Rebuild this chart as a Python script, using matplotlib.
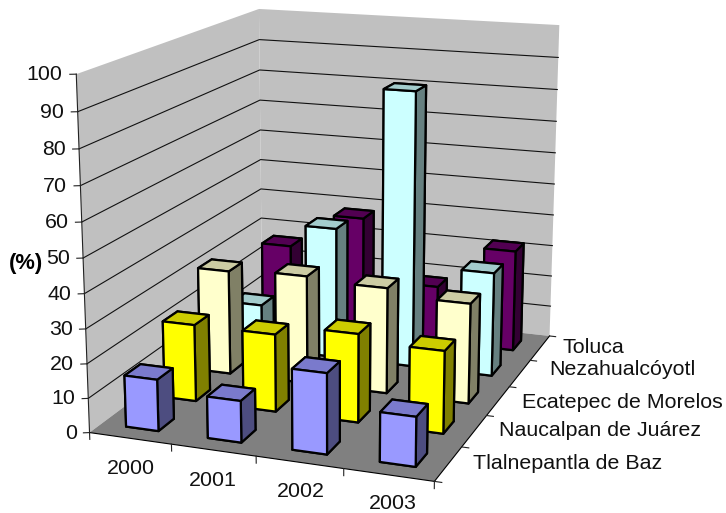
import matplotlib
matplotlib.use('Agg')
import matplotlib.pyplot as plt
import numpy as np
from matplotlib.colors import to_rgb
from mpl_toolkits.mplot3d import proj3d
from mpl_toolkits.mplot3d.art3d import Poly3DCollection

plt.rcParams['font.family'] = ['Liberation Sans', 'DejaVu Sans']

years = ['2000', '2001', '2002', '2003']
cities = ['Tlalnepantla de Baz', 'Naucalpan de Juárez', 'Ecatepec de Morelos', 'Nezahualcóyotl', 'Toluca']
tlalnepantla = [15, 12, 23, 14]
naucalpan = [23, 23, 26, 24]
ecatepec = [32, 33, 32, 30]
nezahualcoyotl = [14, 41, 85, 32]
toluca = [26.5, 38, 18, 32]
series = [tlalnepantla, naucalpan, ecatepec, nezahualcoyotl, toluca]
colors = ['#9999FF', '#FFFF00', '#FFFFCC', '#CCFFFF', '#660066']
z_ticks = list(range(0, 101, 10))

# pixel nudges for the labels, excel spaces them unevenly
city_nudge = [(5, 3), (5, 3), (5, 1), (12, 6), (5, 2)]
year_nudge = [(2, 0), (0, 0), (1, 2), (3, 3)]

fig = plt.figure(figsize=(7.26, 5.13), dpi=100)
ax = fig.add_axes([0.0183, -0.0557, 0.8674, 1.2275], projection='3d', proj_type='persp',
                  computed_zorder=False, focal_length=0.5358)
ax.view_init(elev=14.823, azim=-69.955)
ax.set_box_aspect((0.9921, 1.2516, 1))
ax.set_axis_off()

nx = len(years)
ny = len(cities)


def set_limits():
    ax.set_xlim(0, nx, view_margin=0)
    ax.set_ylim(0, ny, view_margin=0)
    ax.set_zlim(0, 100, view_margin=0)


# text goes on as 2d at the projected spot
def label(x, y, z, s, dx=0, dy=0, **kw):
    px, py, _ = proj3d.proj_transform(x, y, z, ax.get_proj())
    ax.annotate(s, xy=(px, py), xycoords='data', xytext=(dx, dy), textcoords='offset pixels',
                fontsize=15.4, color='#111111', annotation_clip=False, **kw)


def shade(col, f):
    return tuple(np.array(to_rgb(col)) * f)


set_limits()

# walls and floor
walls = [[(0, 0, 0), (0, ny, 0), (0, ny, 100), (0, 0, 100)],
         [(0, ny, 0), (nx, ny, 0), (nx, ny, 100), (0, ny, 100)]]
ax.add_collection3d(Poly3DCollection(walls, facecolors='#C0C0C0', edgecolors='none', zorder=1))
floor = [[(0, 0, 0), (nx, 0, 0), (nx, ny, 0), (0, ny, 0)]]
ax.add_collection3d(Poly3DCollection(floor, facecolors='#808080', edgecolors='none', zorder=1))

# gridlines
for z in z_ticks[1:-1]:
    ax.plot([0, 0, nx], [0, ny, ny], [z, z, z], color='#111111', lw=0.8, zorder=2)

# axis lines and ticks
ax.plot([0, 0], [0, 0], [0, 100], color='#222222', lw=0.8, zorder=2)
ax.plot([0, nx, nx], [0, 0, ny], [0, 0, 0], color='black', lw=0.8, zorder=2)
for z in z_ticks:
    ax.plot([-0.06, 0], [-0.03, 0], [z, z], color='#222222', lw=0.8, zorder=2)
    label(-0.14, -0.07, z, str(z), dx=1.5, ha='right', va='center')
for i in range(nx + 1):
    ax.plot([i, i], [0, 0], [-2, 0], color='#222222', lw=0.8, zorder=2)
for j in range(ny + 1):
    ax.plot([nx, nx + 0.08], [j, j], [0, 0], color='#222222', lw=0.8, zorder=2)

for i, y in enumerate(years):
    label(i + 0.6, -0.25, -6, y, dx=year_nudge[i][0], dy=year_nudge[i][1], ha='center', va='center')
for j, c in enumerate(cities):
    label(nx + 0.22, j + 0.5, 0, c, dx=city_nudge[j][0], dy=city_nudge[j][1], ha='left', va='center')
fig.text(26 / 726, 1 - 263 / 513, '(%)', ha='center', va='center', fontsize=15.8, fontweight='bold')

# bars, back to front
w = 0.4
order = 100
for j in range(ny - 1, -1, -1):
    for i in range(nx):
        col = colors[j]
        faces = [shade(col, .5), shade(col, .8), col, shade(col, .5), shade(col, .5), shade(col, .5)]
        ax.bar3d(i + 0.5 - w / 2, j + 0.5 - w / 2, 0, w, w, series[j][i], color=faces, shade=False,
                 edgecolor='black', linewidth=1.6, zorder=order)
        order += 1

set_limits()
fig.savefig('out.png', dpi=100)
